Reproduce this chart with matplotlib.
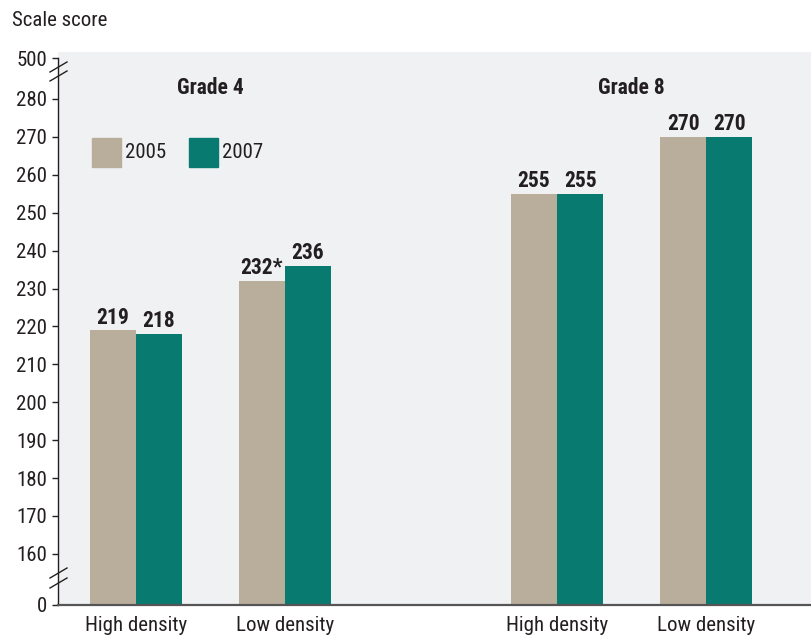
import matplotlib
matplotlib.use("Agg")
import matplotlib.pyplot as plt
from matplotlib.lines import Line2D
from matplotlib.patches import Rectangle

plt.rcParams['font.family'] = ['Roboto Condensed', 'DejaVu Sans']

# ---- data ----
categories = ["High density", "Low density", "High density", "Low density"]
grades = ["Grade 4", "Grade 8"]
series_names = ["2005", "2007"]
values_2005 = [219, 232, 255, 270]
values_2007 = [218, 236, 255, 270]
labels_2005 = ["219", "232*", "255", "270"]
labels_2007 = ["218", "236", "255", "270"]
ytick_values = [0, 160, 170, 180, 190, 200, 210, 220, 230, 240, 250, 260, 270, 280, 500]
ytick_labels = ["0", "160", "170", "180", "190", "200", "210", "220", "230", "240",
                "250", "260", "270", "280", "500"]

# ---- style ----
C2005 = "#b9ae9c"
C2007 = "#087a70"
BG = "#f0f1f3"
TXT = "#231f20"
W, H = 811, 636
FS = 15
FSB = 15.5

# broken axis mapping
Y_ZERO = 146.5
Y_500 = 290.8
def ymap(v):
    if v == 0:
        return Y_ZERO
    if v == 500:
        return Y_500
    return v

fig = plt.figure(figsize=(W / 100, H / 100), dpi=100)
ax = fig.add_axes([58 / W, 1 - 605 / H, 1 - 58 / W, (605 - 52) / H])
ax.set_facecolor(BG)

pos = [0, 1, 2.826, 3.826]
bw = 0.309
for i, p in enumerate(pos):
    ax.bar(p - bw / 2, values_2005[i] - Y_ZERO, bottom=Y_ZERO, width=bw, color=C2005)
    ax.bar(p + bw / 2, values_2007[i] - Y_ZERO, bottom=Y_ZERO, width=bw, color=C2007)
    ax.text(p - bw / 2, values_2005[i] + 0.4, labels_2005[i], ha="center", va="bottom",
            fontsize=FSB, fontweight="bold", color=TXT)
    ax.text(p + bw / 2, values_2007[i] + 0.4, labels_2007[i], ha="center", va="bottom",
            fontsize=FSB, fontweight="bold", color=TXT)

ax.set_xlim(-0.523, 4.53)
ax.set_ylim(Y_ZERO, 292.4)

ax.set_xticks(pos)
ax.set_xticklabels(categories, fontsize=FS, color=TXT)
ax.tick_params(axis="x", length=0, pad=8)

ax.set_yticks([ymap(v) for v in ytick_values])
ax.set_yticklabels(ytick_labels, fontsize=FS, color=TXT)
ax.tick_params(axis="y", length=4, width=1, color=TXT, pad=4)

for s in ["top", "right"]:
    ax.spines[s].set_visible(False)
ax.spines["left"].set_bounds(Y_ZERO, Y_500)
ax.spines["left"].set_color(TXT)
ax.spines["left"].set_linewidth(1)
ax.spines["bottom"].set_color("#555555")
ax.spines["bottom"].set_linewidth(1.6)

# grade titles
ax.text((pos[0] + pos[1]) / 2, 282.9, grades[0], ha="center", va="center",
        fontsize=FSB, fontweight="bold", color=TXT)
ax.text((pos[2] + pos[3]) / 2, 282.9, grades[1], ha="center", va="center",
        fontsize=FSB, fontweight="bold", color=TXT)

# legend (manual)
def fx(px):
    return px / W
def fy(py):
    return 1 - py / H
fig.patches.append(Rectangle((fx(92), fy(167)), 29 / W, 29 / H, transform=fig.transFigure,
                             color=C2005))
fig.text(fx(125), fy(153), series_names[0], fontsize=FS, color=TXT, va="center")
fig.patches.append(Rectangle((fx(189), fy(167)), 29 / W, 29 / H, transform=fig.transFigure,
                             color=C2007))
fig.text(fx(222), fy(153), series_names[1], fontsize=FS, color=TXT, va="center")

# axis breaks
for (x0, y0, x1, y1) in [(50, 72, 67, 62), (50, 81, 67, 71),
                         (50, 578, 67, 568), (50, 588, 67, 578)]:
    fig.add_artist(Line2D([fx(x0), fx(x1)], [fy(y0), fy(y1)], transform=fig.transFigure,
                          color=TXT, lw=1))

fig.text(fx(12), fy(20), "Scale score", fontsize=FS, color=TXT, va="center")

fig.savefig("out.png", dpi=100)
